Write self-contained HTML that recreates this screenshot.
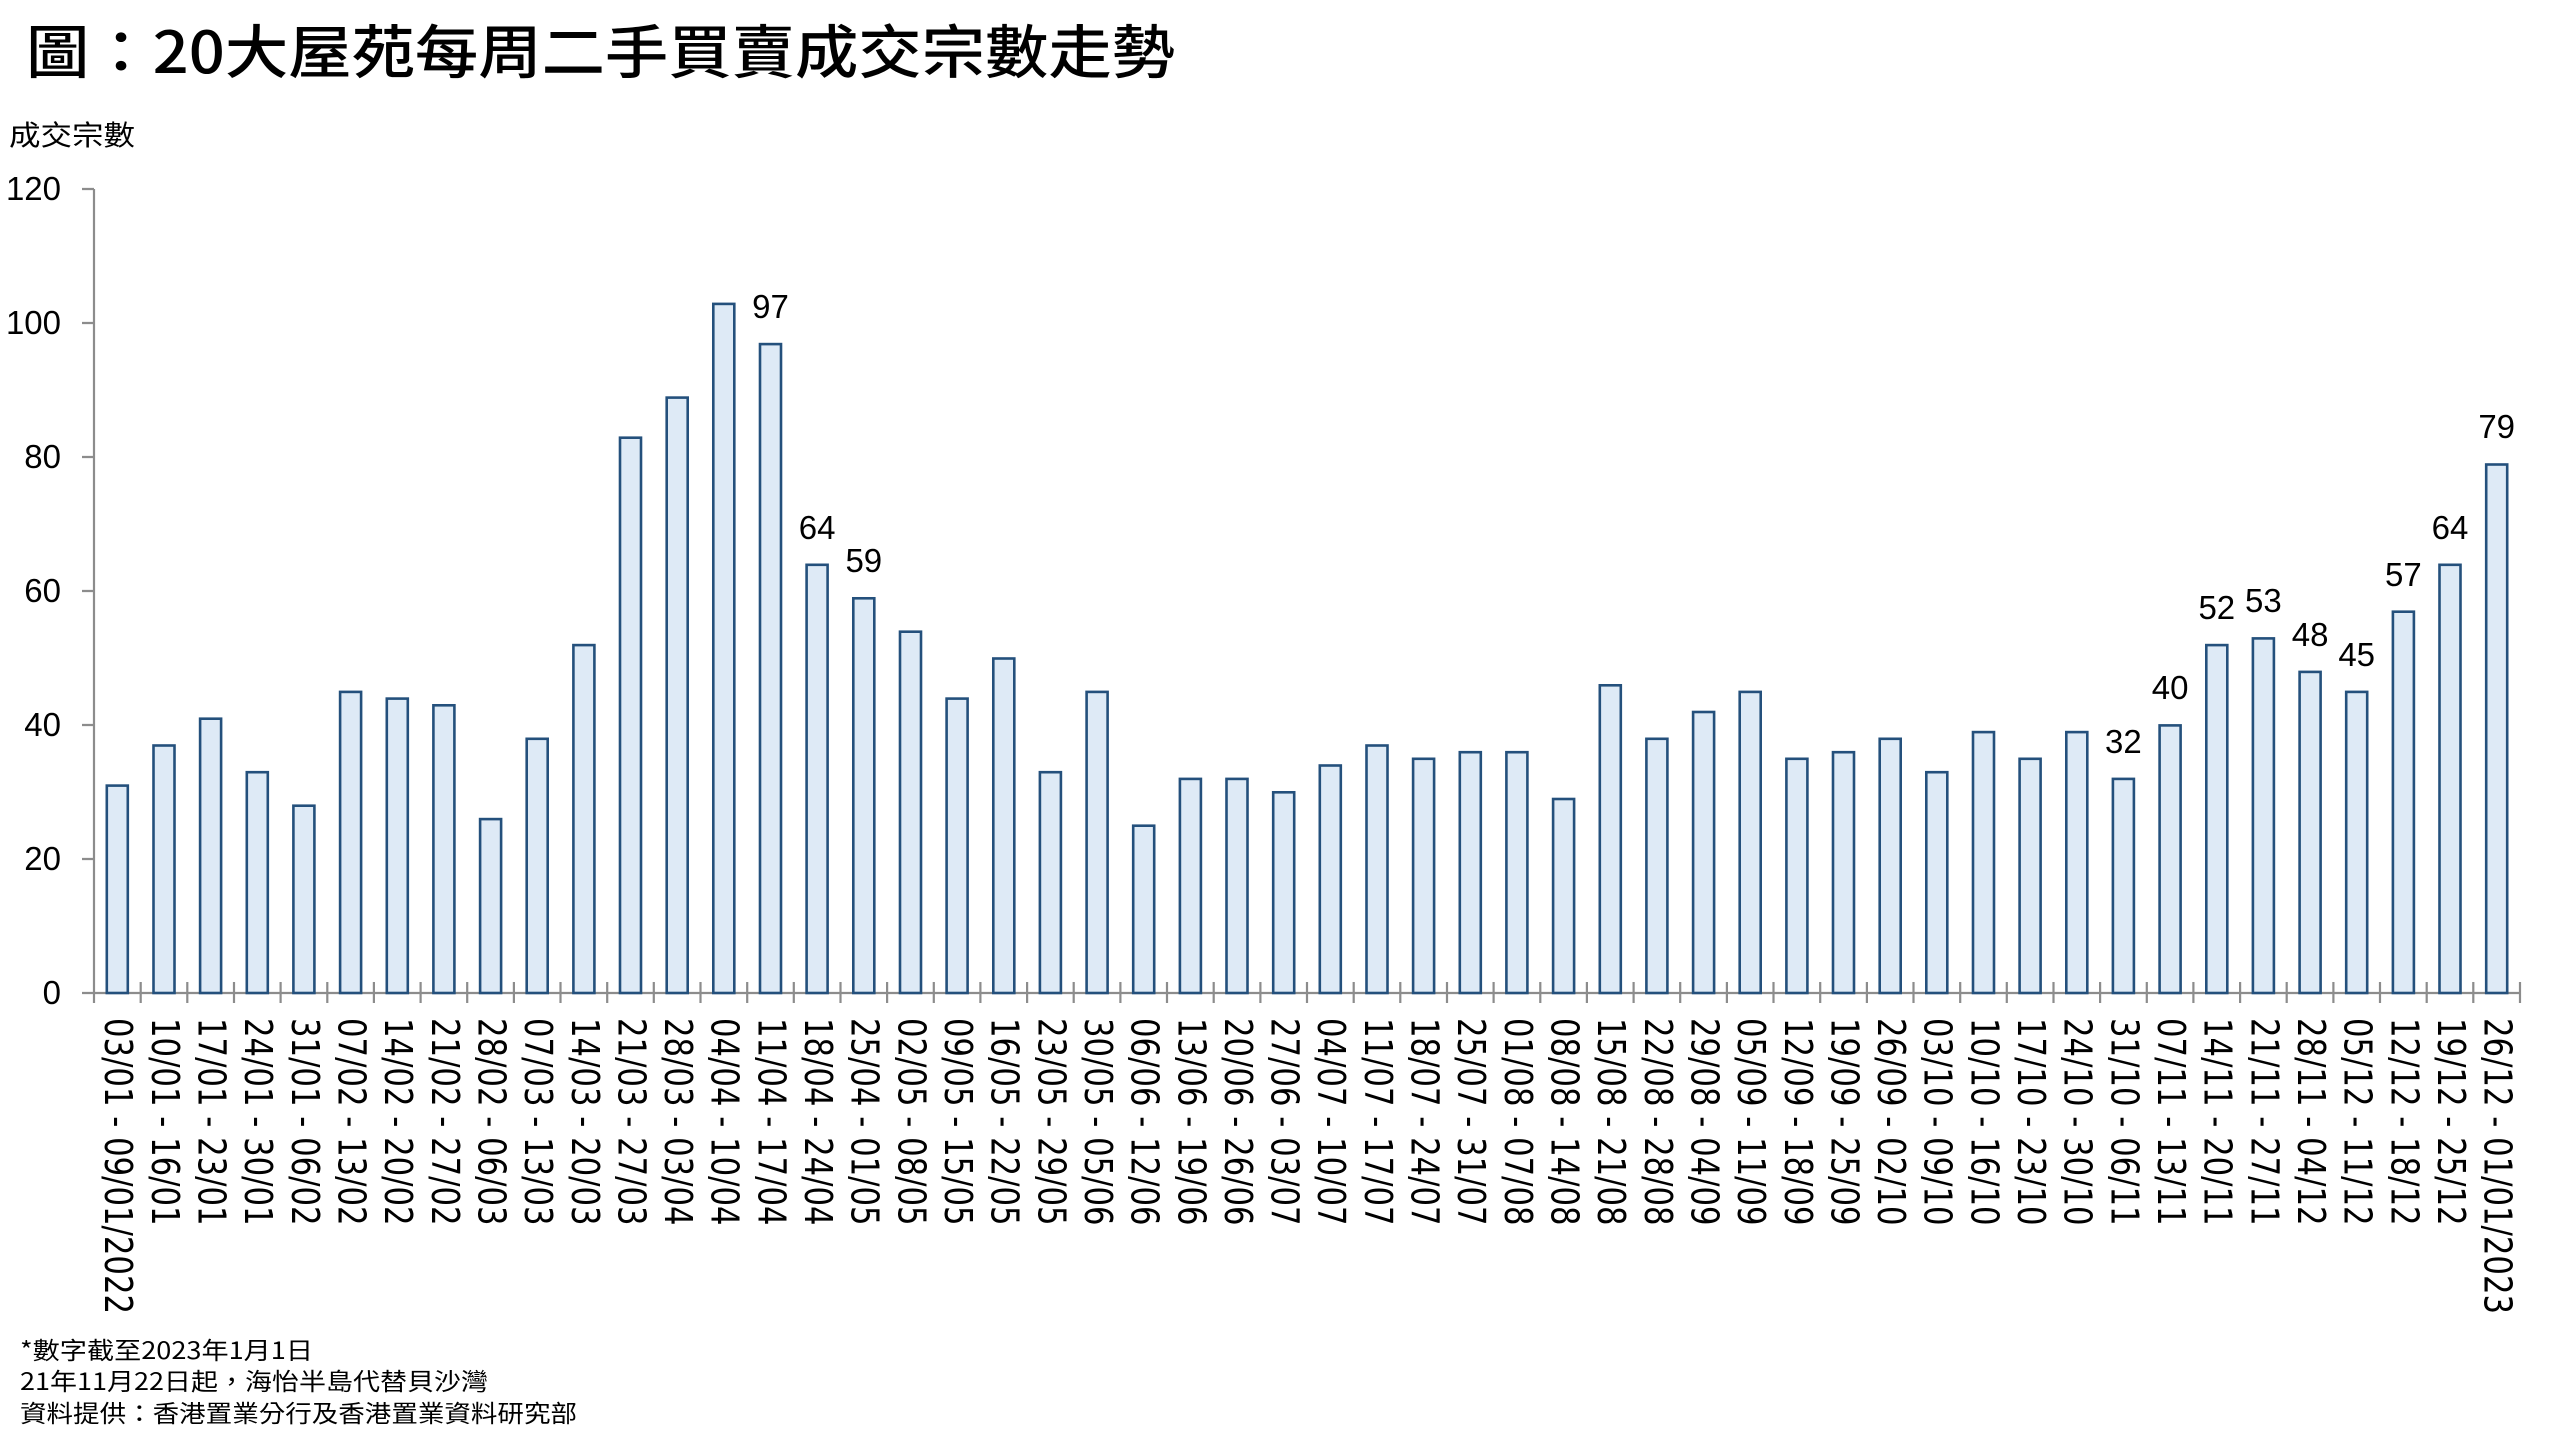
<!DOCTYPE html>
<html><head><meta charset="utf-8"><style>
html,body{margin:0;padding:0;background:#fff;}
svg{display:block;}
.t{font-family:"Noto Sans CJK TC","WenQuanYi Zen Hei",sans-serif;}
.n{font-family:"Liberation Sans",sans-serif;}
.x{font-family:"DejaVu Sans","Liberation Sans",sans-serif;font-size:30.7px;}
rect{fill:#deeaf6;stroke:#24507c;stroke-width:2.6;}
</style></head><body>
<svg width="2560" height="1440" viewBox="0 0 2560 1440" xmlns="http://www.w3.org/2000/svg">
<text class="t" x="26" y="73" font-size="58" font-weight="500" textLength="1149" lengthAdjust="spacingAndGlyphs">圖：20大屋苑每周二手買賣成交宗數走勢</text>
<text class="t" x="9" y="145" font-size="28" textLength="126" lengthAdjust="spacingAndGlyphs">成交宗數</text>
<g class="n" font-size="33" text-anchor="end">
<text x="61" y="200">120</text><text x="61" y="334">100</text><text x="61" y="468">80</text><text x="61" y="602">60</text><text x="61" y="736">40</text><text x="61" y="870">20</text><text x="61" y="1004">0</text>
</g>
<g stroke="#8c8c8c" stroke-width="2.2" fill="none">
<path d="M94 189V993M82 189H94M82 323H94M82 457H94M82 591H94M82 725H94M82 859H94M82 993H2520"/>
</g>
<g>
<rect x="106.8" y="785.6" width="21" height="207.4"/>
<rect x="153.5" y="745.5" width="21" height="247.5"/>
<rect x="200.1" y="718.7" width="21" height="274.3"/>
<rect x="246.8" y="772.2" width="21" height="220.8"/>
<rect x="293.4" y="805.7" width="21" height="187.3"/>
<rect x="340.1" y="691.9" width="21" height="301.1"/>
<rect x="386.8" y="698.6" width="21" height="294.4"/>
<rect x="433.4" y="705.3" width="21" height="287.7"/>
<rect x="480.1" y="819.1" width="21" height="173.9"/>
<rect x="526.7" y="738.8" width="21" height="254.2"/>
<rect x="573.4" y="645.1" width="21" height="347.9"/>
<rect x="620.0" y="437.7" width="21" height="555.3"/>
<rect x="666.7" y="397.6" width="21" height="595.4"/>
<rect x="713.3" y="303.9" width="21" height="689.1"/>
<rect x="760.0" y="344.1" width="21" height="648.9"/>
<rect x="806.6" y="564.8" width="21" height="428.2"/>
<rect x="853.3" y="598.3" width="21" height="394.7"/>
<rect x="900.0" y="631.7" width="21" height="361.3"/>
<rect x="946.6" y="698.6" width="21" height="294.4"/>
<rect x="993.3" y="658.5" width="21" height="334.5"/>
<rect x="1039.9" y="772.2" width="21" height="220.8"/>
<rect x="1086.6" y="691.9" width="21" height="301.1"/>
<rect x="1133.2" y="825.7" width="21" height="167.3"/>
<rect x="1179.9" y="778.9" width="21" height="214.1"/>
<rect x="1226.5" y="778.9" width="21" height="214.1"/>
<rect x="1273.2" y="792.3" width="21" height="200.7"/>
<rect x="1319.8" y="765.5" width="21" height="227.5"/>
<rect x="1366.5" y="745.5" width="21" height="247.5"/>
<rect x="1413.1" y="758.8" width="21" height="234.2"/>
<rect x="1459.8" y="752.2" width="21" height="240.8"/>
<rect x="1506.4" y="752.2" width="21" height="240.8"/>
<rect x="1553.1" y="799.0" width="21" height="194.0"/>
<rect x="1599.8" y="685.3" width="21" height="307.7"/>
<rect x="1646.4" y="738.8" width="21" height="254.2"/>
<rect x="1693.1" y="712.0" width="21" height="281.0"/>
<rect x="1739.7" y="691.9" width="21" height="301.1"/>
<rect x="1786.4" y="758.8" width="21" height="234.2"/>
<rect x="1833.0" y="752.2" width="21" height="240.8"/>
<rect x="1879.7" y="738.8" width="21" height="254.2"/>
<rect x="1926.3" y="772.2" width="21" height="220.8"/>
<rect x="1973.0" y="732.1" width="21" height="260.9"/>
<rect x="2019.6" y="758.8" width="21" height="234.2"/>
<rect x="2066.3" y="732.1" width="21" height="260.9"/>
<rect x="2112.9" y="778.9" width="21" height="214.1"/>
<rect x="2159.6" y="725.4" width="21" height="267.6"/>
<rect x="2206.3" y="645.1" width="21" height="347.9"/>
<rect x="2252.9" y="638.4" width="21" height="354.6"/>
<rect x="2299.6" y="671.9" width="21" height="321.1"/>
<rect x="2346.2" y="691.9" width="21" height="301.1"/>
<rect x="2392.9" y="611.7" width="21" height="381.3"/>
<rect x="2439.5" y="564.8" width="21" height="428.2"/>
<rect x="2486.2" y="464.5" width="21" height="528.5"/>
</g>
<path stroke="#8c8c8c" stroke-width="2.2" fill="none" d="M94 993V1003M140.7 982V1003M187.3 982V1003M234.0 982V1003M280.6 982V1003M327.3 982V1003M373.9 982V1003M420.6 982V1003M467.2 982V1003M513.9 982V1003M560.5 982V1003M607.2 982V1003M653.8 982V1003M700.5 982V1003M747.2 982V1003M793.8 982V1003M840.5 982V1003M887.1 982V1003M933.8 982V1003M980.4 982V1003M1027.1 982V1003M1073.7 982V1003M1120.4 982V1003M1167.0 982V1003M1213.7 982V1003M1260.4 982V1003M1307.0 982V1003M1353.7 982V1003M1400.3 982V1003M1447.0 982V1003M1493.6 982V1003M1540.3 982V1003M1586.9 982V1003M1633.6 982V1003M1680.2 982V1003M1726.9 982V1003M1773.5 982V1003M1820.2 982V1003M1866.9 982V1003M1913.5 982V1003M1960.2 982V1003M2006.8 982V1003M2053.5 982V1003M2100.1 982V1003M2146.8 982V1003M2193.4 982V1003M2240.1 982V1003M2286.7 982V1003M2333.4 982V1003M2380.0 982V1003M2426.7 982V1003M2473.3 982V1003M2520 982V1003"/>
<g class="n" font-size="33" text-anchor="middle">
<text x="770.5" y="318">97</text>
<text x="817.1" y="539">64</text>
<text x="863.8" y="572">59</text>
<text x="2123.4" y="753">32</text>
<text x="2170.1" y="699">40</text>
<text x="2216.8" y="619">52</text>
<text x="2263.4" y="612">53</text>
<text x="2310.1" y="646">48</text>
<text x="2356.7" y="666">45</text>
<text x="2403.4" y="586">57</text>
<text x="2450.0" y="539">64</text>
<text x="2496.7" y="438">79</text>
</g>
<g class="x" dominant-baseline="central">
<text transform="translate(117.3,1018) rotate(90) scale(1,1.25)">03/01 - 09/01/2022</text>
<text transform="translate(164.0,1018) rotate(90) scale(1,1.25)">10/01 - 16/01</text>
<text transform="translate(210.6,1018) rotate(90) scale(1,1.25)">17/01 - 23/01</text>
<text transform="translate(257.3,1018) rotate(90) scale(1,1.25)">24/01 - 30/01</text>
<text transform="translate(303.9,1018) rotate(90) scale(1,1.25)">31/01 - 06/02</text>
<text transform="translate(350.6,1018) rotate(90) scale(1,1.25)">07/02 - 13/02</text>
<text transform="translate(397.3,1018) rotate(90) scale(1,1.25)">14/02 - 20/02</text>
<text transform="translate(443.9,1018) rotate(90) scale(1,1.25)">21/02 - 27/02</text>
<text transform="translate(490.6,1018) rotate(90) scale(1,1.25)">28/02 - 06/03</text>
<text transform="translate(537.2,1018) rotate(90) scale(1,1.25)">07/03 - 13/03</text>
<text transform="translate(583.9,1018) rotate(90) scale(1,1.25)">14/03 - 20/03</text>
<text transform="translate(630.5,1018) rotate(90) scale(1,1.25)">21/03 - 27/03</text>
<text transform="translate(677.2,1018) rotate(90) scale(1,1.25)">28/03 - 03/04</text>
<text transform="translate(723.8,1018) rotate(90) scale(1,1.25)">04/04 - 10/04</text>
<text transform="translate(770.5,1018) rotate(90) scale(1,1.25)">11/04 - 17/04</text>
<text transform="translate(817.1,1018) rotate(90) scale(1,1.25)">18/04 - 24/04</text>
<text transform="translate(863.8,1018) rotate(90) scale(1,1.25)">25/04 - 01/05</text>
<text transform="translate(910.5,1018) rotate(90) scale(1,1.25)">02/05 - 08/05</text>
<text transform="translate(957.1,1018) rotate(90) scale(1,1.25)">09/05 - 15/05</text>
<text transform="translate(1003.8,1018) rotate(90) scale(1,1.25)">16/05 - 22/05</text>
<text transform="translate(1050.4,1018) rotate(90) scale(1,1.25)">23/05 - 29/05</text>
<text transform="translate(1097.1,1018) rotate(90) scale(1,1.25)">30/05 - 05/06</text>
<text transform="translate(1143.7,1018) rotate(90) scale(1,1.25)">06/06 - 12/06</text>
<text transform="translate(1190.4,1018) rotate(90) scale(1,1.25)">13/06 - 19/06</text>
<text transform="translate(1237.0,1018) rotate(90) scale(1,1.25)">20/06 - 26/06</text>
<text transform="translate(1283.7,1018) rotate(90) scale(1,1.25)">27/06 - 03/07</text>
<text transform="translate(1330.3,1018) rotate(90) scale(1,1.25)">04/07 - 10/07</text>
<text transform="translate(1377.0,1018) rotate(90) scale(1,1.25)">11/07 - 17/07</text>
<text transform="translate(1423.6,1018) rotate(90) scale(1,1.25)">18/07 - 24/07</text>
<text transform="translate(1470.3,1018) rotate(90) scale(1,1.25)">25/07 - 31/07</text>
<text transform="translate(1516.9,1018) rotate(90) scale(1,1.25)">01/08 - 07/08</text>
<text transform="translate(1563.6,1018) rotate(90) scale(1,1.25)">08/08 - 14/08</text>
<text transform="translate(1610.3,1018) rotate(90) scale(1,1.25)">15/08 - 21/08</text>
<text transform="translate(1656.9,1018) rotate(90) scale(1,1.25)">22/08 - 28/08</text>
<text transform="translate(1703.6,1018) rotate(90) scale(1,1.25)">29/08 - 04/09</text>
<text transform="translate(1750.2,1018) rotate(90) scale(1,1.25)">05/09 - 11/09</text>
<text transform="translate(1796.9,1018) rotate(90) scale(1,1.25)">12/09 - 18/09</text>
<text transform="translate(1843.5,1018) rotate(90) scale(1,1.25)">19/09 - 25/09</text>
<text transform="translate(1890.2,1018) rotate(90) scale(1,1.25)">26/09 - 02/10</text>
<text transform="translate(1936.8,1018) rotate(90) scale(1,1.25)">03/10 - 09/10</text>
<text transform="translate(1983.5,1018) rotate(90) scale(1,1.25)">10/10 - 16/10</text>
<text transform="translate(2030.1,1018) rotate(90) scale(1,1.25)">17/10 - 23/10</text>
<text transform="translate(2076.8,1018) rotate(90) scale(1,1.25)">24/10 - 30/10</text>
<text transform="translate(2123.4,1018) rotate(90) scale(1,1.25)">31/10 - 06/11</text>
<text transform="translate(2170.1,1018) rotate(90) scale(1,1.25)">07/11 - 13/11</text>
<text transform="translate(2216.8,1018) rotate(90) scale(1,1.25)">14/11 - 20/11</text>
<text transform="translate(2263.4,1018) rotate(90) scale(1,1.25)">21/11 - 27/11</text>
<text transform="translate(2310.1,1018) rotate(90) scale(1,1.25)">28/11 - 04/12</text>
<text transform="translate(2356.7,1018) rotate(90) scale(1,1.25)">05/12 - 11/12</text>
<text transform="translate(2403.4,1018) rotate(90) scale(1,1.25)">12/12 - 18/12</text>
<text transform="translate(2450.0,1018) rotate(90) scale(1,1.25)">19/12 - 25/12</text>
<text transform="translate(2496.7,1018) rotate(90) scale(1,1.25)">26/12 - 01/01/2023</text>
</g>
<g class="t" font-size="24">
<text x="20" y="1359" textLength="293" lengthAdjust="spacingAndGlyphs">*數字截至2023年1月1日</text>
<text x="20" y="1390" textLength="468" lengthAdjust="spacingAndGlyphs">21年11月22日起，海怡半島代替貝沙灣</text>
<text x="20" y="1422" textLength="557" lengthAdjust="spacingAndGlyphs">資料提供：香港置業分行及香港置業資料研究部</text>
</g>
</svg>
</body></html>
